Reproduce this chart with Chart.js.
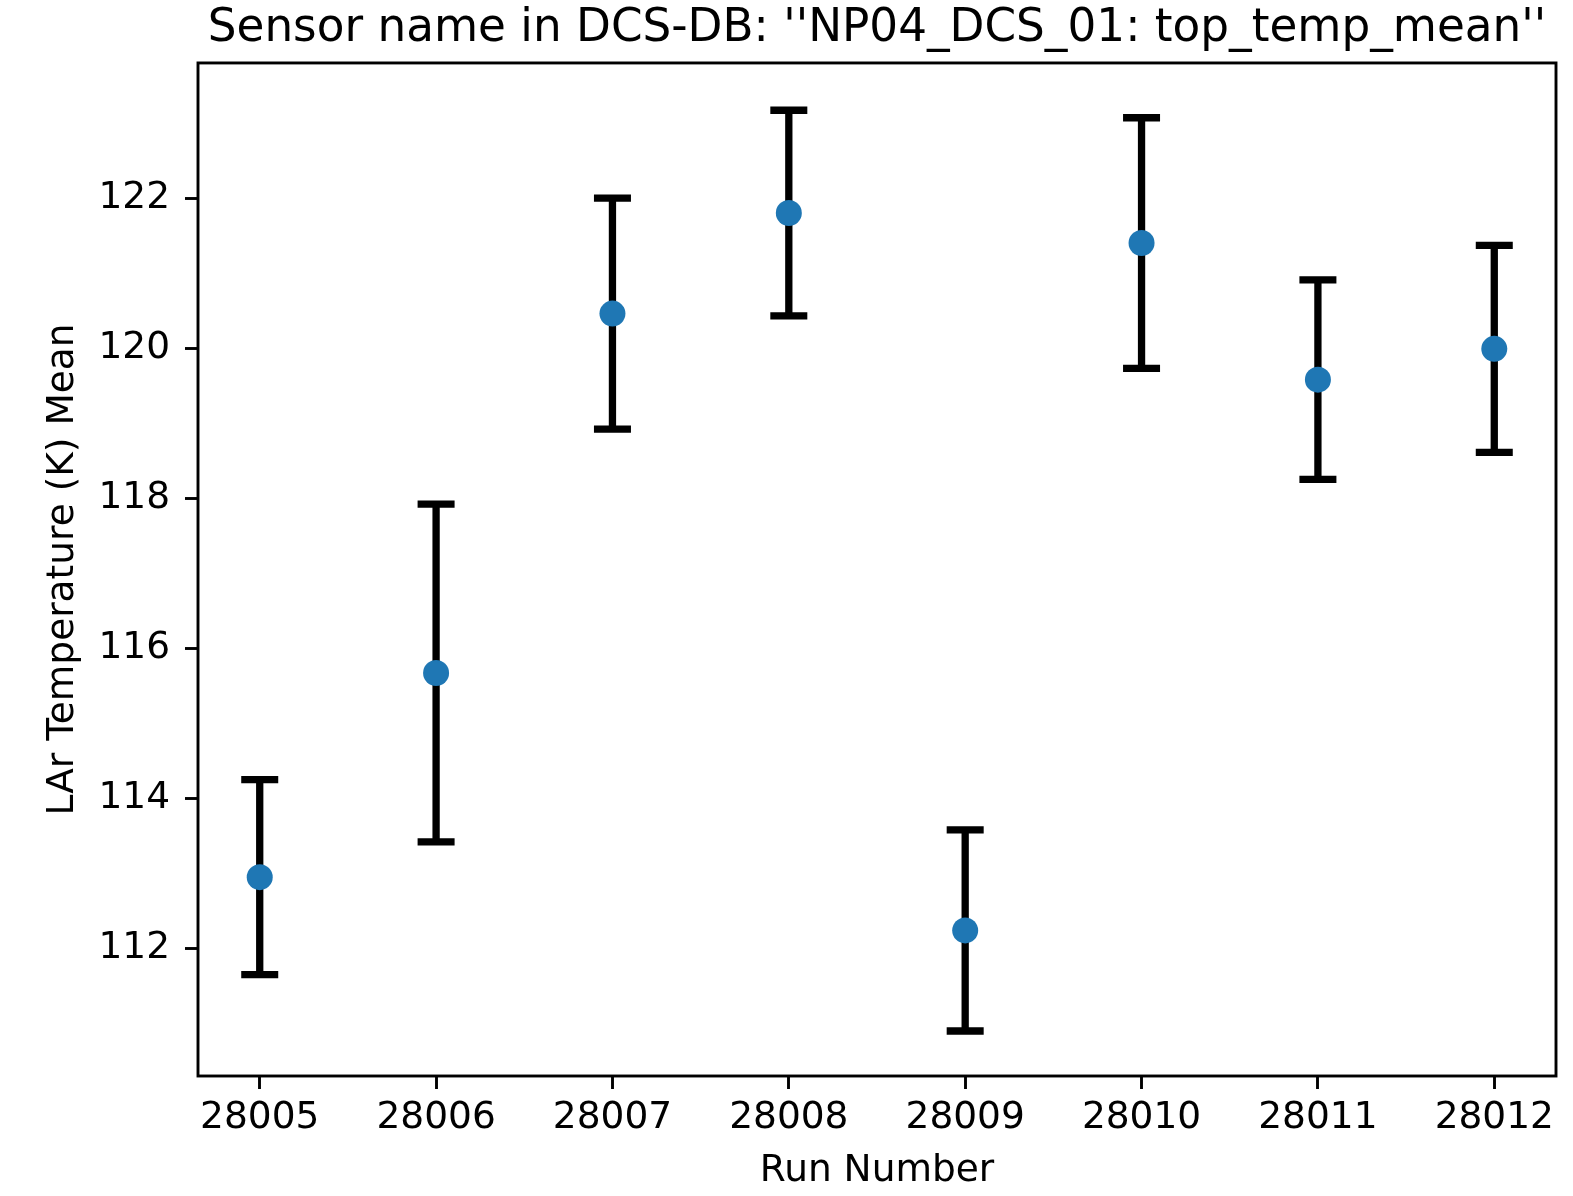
<!DOCTYPE html>
<html>
<head>
<meta charset="utf-8">
<script src="https://cdn.jsdelivr.net/npm/chart.js@4.4.1/dist/chart.umd.min.js"></script>
<style>
  html, body { margin: 0; padding: 0; background: #ffffff; }
  #wrap { width: 1573px; height: 1196px; }
</style>
</head>
<body>
<div id="wrap"><canvas id="c" width="1573" height="1196"></canvas></div>
<script>
// ---- data ----
const runs   = [28005, 28006, 28007, 28008, 28009, 28010, 28011, 28012];
const means  = [112.95, 115.67, 120.46, 121.80, 112.24, 121.40, 119.58, 119.99];
const errors = [1.30, 2.25, 1.54, 1.37, 1.34, 1.67, 1.33, 1.38];
const yTicks = [112, 114, 116, 118, 120, 122];
const xTicks = runs;
const titleText = "Sensor name in DCS-DB: ''NP04_DCS_01: top_temp_mean''";
const xLabel = "Run Number";
const yLabel = "LAr Temperature (K) Mean";

const FONT = "'DejaVu Sans', 'Liberation Sans', sans-serif";

const errorBars = {
  id: 'errorBars',
  beforeDatasetsDraw(chart) {
    const ctx = chart.ctx, xs = chart.scales.x, ys = chart.scales.y;
    ctx.save();
    ctx.strokeStyle = '#000000';
    ctx.lineWidth = 7.3;
    ctx.lineCap = 'butt';
    for (let i = 0; i < runs.length; i++) {
      const px = xs.getPixelForValue(runs[i]);
      const yT = ys.getPixelForValue(means[i] + errors[i]);
      const yB = ys.getPixelForValue(means[i] - errors[i]);
      ctx.beginPath();
      ctx.moveTo(px, yT); ctx.lineTo(px, yB);
      ctx.stroke();
      const cw = 18.5;
      ctx.beginPath();
      ctx.moveTo(px - cw, yT); ctx.lineTo(px + cw, yT);
      ctx.moveTo(px - cw, yB); ctx.lineTo(px + cw, yB);
      ctx.stroke();
    }
    ctx.restore();
  },
  afterDraw(chart) {
    const a = chart.chartArea, ctx = chart.ctx;
    ctx.save();
    ctx.strokeStyle = '#000000';
    ctx.lineWidth = 2.9;
    ctx.strokeRect(a.left, a.top, a.right - a.left, a.bottom - a.top);
    ctx.restore();
  }
};

new Chart(document.getElementById('c'), {
  type: 'scatter',
  data: {
    datasets: [{
      data: runs.map((r, i) => ({ x: r, y: means[i] })),
      pointRadius: 13,
      pointHoverRadius: 13,
      pointBackgroundColor: '#1f77b4',
      pointBorderWidth: 0,
      showLine: false
    }]
  },
  options: {
    responsive: false,
    animation: false,
    events: [],
    layout: { padding: { left: 0, right: 17, top: 0, bottom: 0 } },
    plugins: {
      legend: { display: false },
      tooltip: { enabled: false },
      title: {
        display: true,
        fullSize: false,
        text: titleText,
        color: '#000000',
        font: { family: FONT, size: 45.3, weight: 'normal', lineHeight: 1.2 },
        padding: { top: 2.5, bottom: 6.1 }
      }
    },
    scales: {
      x: {
        type: 'linear',
        min: 28004.65,
        max: 28012.35,
        afterBuildTicks(s) { s.ticks = xTicks.map(v => ({ value: v })); },
        afterFit(s) { s.height = 120; },
        ticks: {
          autoSkip: false,
          maxRotation: 0,
          color: '#000000',
          padding: 6.5,
          font: { family: FONT, size: 37.5, lineHeight: 1.2 },
          callback: v => String(v)
        },
        grid: { drawOnChartArea: false, drawTicks: true, tickLength: 13, tickWidth: 2.9, tickColor: '#000000' },
        border: { display: false },
        title: {
          display: true, text: xLabel, color: '#000000',
          font: { family: FONT, size: 37.5, lineHeight: 1.2 },
          padding: { top: 0, bottom: 2 }
        }
      },
      y: {
        type: 'linear',
        min: 110.30,
        max: 123.80,
        afterBuildTicks(s) { s.ticks = yTicks.map(v => ({ value: v })); },
        afterFit(s) { s.width = 198; },
        ticks: {
          autoSkip: false,
          color: '#000000',
          padding: 15,
          font: { family: FONT, size: 37.5, lineHeight: 1.2 },
          callback: v => String(v)
        },
        grid: { drawOnChartArea: false, drawTicks: true, tickLength: 13, tickWidth: 2.9, tickColor: '#000000' },
        border: { display: false },
        title: {
          display: true, text: yLabel, color: '#000000',
          font: { family: FONT, size: 37.5, lineHeight: 1.2 },
          padding: { top: 41.2, bottom: 0 }
        }
      }
    }
  },
  plugins: [errorBars]
});
</script>
</body>
</html>
